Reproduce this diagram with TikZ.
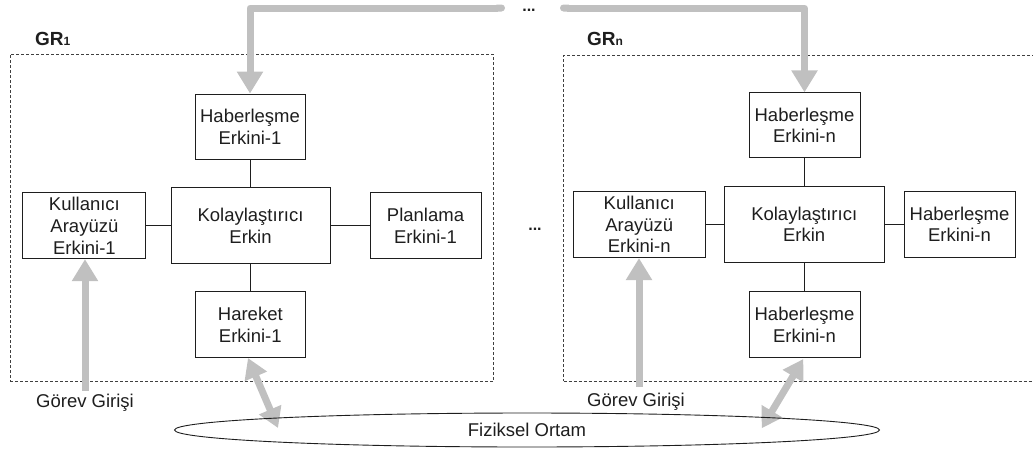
\documentclass[tikz,border=0pt]{standalone}
\usepackage{fontspec}
\setmainfont{Liberation Sans}
\usetikzlibrary{arrows.meta,shapes.geometric}
\definecolor{flow}{HTML}{C0C0C0}
\definecolor{ink}{HTML}{1E1E1E}
\newcommand\boxfont{\fontsize{18.5}{21.8}\selectfont}
\tikzset{
  agent/.style={draw=ink, line width=0.9pt, fill=white, align=center,
    font=\boxfont, text=ink, inner sep=0pt},
  grpbox/.style={draw=ink!85, line width=0.8pt, dash pattern=on 3pt off 2pt,
    inner sep=0pt},
  link/.style={draw=ink, line width=0.9pt},
  flowarrow/.style={draw=flow, line width=7pt, line join=round,
    arrows={Round Cap[]-Triangle[length=22pt,width=25pt]}},
  flowup/.style={draw=flow, line width=7pt,
    arrows={-Triangle[length=22pt,width=25pt]}},
  flowboth/.style={draw=flow, line width=7pt,
    arrows={Triangle[length=20pt,width=23pt]-Triangle[length=20pt,width=23pt]}},
  plain/.style={font=\boxfont, text=ink, inner sep=0pt},
  grlabel/.style={font=\bfseries\fontsize{19}{19}\selectfont, text=ink, inner sep=0pt},
  dots/.style={font=\bfseries\fontsize{16}{16}\selectfont, text=ink, inner sep=0pt}
}
\begin{document}
\begin{tikzpicture}[x=1pt,y=-1pt]
\useasboundingbox (0,0) rectangle (1033,456);
\clip (0,0) rectangle (1033,456);

% group frames
\node[grpbox, minimum width=483pt, minimum height=327.7pt] (grp1) at (251.5,217.9) {};
\node[grpbox, minimum width=480pt, minimum height=326pt] (grpn) at (803.5,218) {};
\node[grlabel, anchor=base west] (lab1) at (35,45) {GR{\fontsize{12}{12}\selectfont 1}};
\node[grlabel, anchor=base west] (labn) at (587,45) {GR{\fontsize{12}{12}\selectfont n}};

% agents of the first group
\node[agent, minimum width=110pt, minimum height=65pt] (hab1) at (250,126.5) {Haberleşme\\Erkini-1};
\node[agent, minimum width=123pt, minimum height=66pt] (kul1) at (84.4,225.7) {Kullanıcı\\Arayüzü\\Erkini-1};
\node[agent, minimum width=159pt, minimum height=76pt] (kol1) at (250.5,225.5) {Kolaylaştırıcı\\Erkin};
\node[agent, minimum width=111pt, minimum height=66pt] (pla1) at (425.5,225.7) {Planlama\\Erkini-1};
\node[agent, minimum width=110.7pt, minimum height=65.6pt] (har1) at (250.3,324.5) {Hareket\\Erkini-1};

% agents of the n-th group
\node[agent, minimum width=111pt, minimum height=65pt] (habn) at (804.5,125.3) {Haberleşme\\Erkini-n};
\node[agent, minimum width=131.7pt, minimum height=66.7pt] (kuln) at (639.2,224.3) {Kullanıcı\\Arayüzü\\Erkini-n};
\node[agent, minimum width=159.7pt, minimum height=76.3pt] (koln) at (804.2,224.3) {Kolaylaştırıcı\\Erkin};
\node[agent, minimum width=111pt, minimum height=66.7pt] (habrn) at (959.5,224.3) {Haberleşme\\Erkini-n};
\node[agent, minimum width=111pt, minimum height=65.6pt] (habbn) at (804.5,324.5) {Haberleşme\\Erkini-n};

% internal links
\draw[link] (hab1.south) -- (hab1.south |- kol1.north);
\draw[link] (kul1.east) -- (kul1.east -| kol1.west);
\draw[link] (pla1.west) -- (pla1.west -| kol1.east);
\draw[link] (kol1.south) -- (kol1.south |- har1.north);
\draw[link] (habn.south) -- (habn.south |- koln.north);
\draw[link] (kuln.east) -- (kuln.east -| koln.west);
\draw[link] (habrn.west) -- (habrn.west -| koln.east);
\draw[link] (koln.south) -- (koln.south |- habbn.north);

% ellipses between the groups
\node[dots] (dtop) at (529,10) {...};
\node[dots] (dmid) at (535,229) {...};

% shared channel on top
\coordinate (top1) at (505,8);
\coordinate (topn) at (560,8);
\draw[flowarrow] (top1) -| (hab1.north);
\draw[flowarrow] (topn) -| (habn.north);

% task inputs
\node[plain] (gor1) at (85,403) {Görev Girişi};
\node[plain] (gorn) at (636,402) {Görev Girişi};
\coordinate (in1) at (85,390.7);
\coordinate (inn) at (639,386.7);
\draw[flowup] (in1) -- (in1 |- kul1.south);
\draw[flowup] (inn) -- (inn |- kuln.south);

% links to the physical environment
\coordinate (env1) at (278,428);
\coordinate (envn) at (761.7,428.3);
\draw[flowboth] (248,358) -- (env1);
\draw[flowboth] (803.3,359) -- (envn);

\node[draw=ink, line width=0.9pt, ellipse, minimum width=705pt, minimum height=34pt,
  inner sep=0pt, font=\boxfont, text=ink] (fiz) at (527,430) {Fiziksel Ortam};
\end{tikzpicture}
\end{document}
